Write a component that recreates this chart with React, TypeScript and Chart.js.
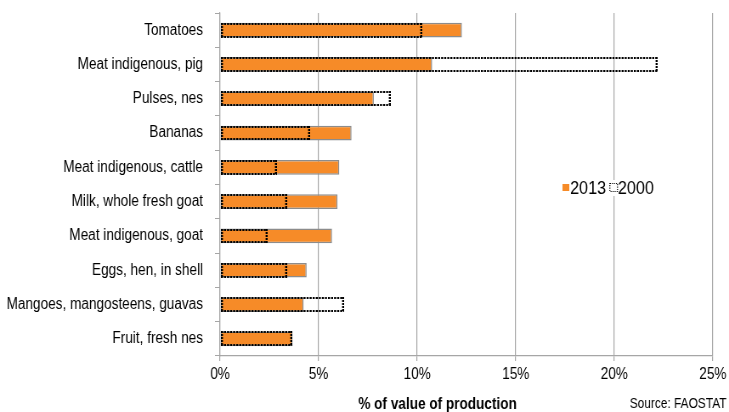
import React, { useEffect, useRef } from 'react';
import { Chart, registerables } from 'chart.js';

Chart.register(...registerables);

const categories = [
  'Tomatoes',
  'Meat indigenous, pig',
  'Pulses, nes',
  'Bananas',
  'Meat indigenous, cattle',
  'Milk, whole fresh goat',
  'Meat indigenous, goat',
  'Eggs, hen, in shell',
  'Mangoes, mangosteens, guavas',
  'Fruit, fresh nes',
];
const values2013 = [12.27, 10.76, 7.8, 6.67, 6.05, 5.96, 5.68, 4.39, 4.24, 3.68];
const values2000 = [10.25, 22.18, 8.65, 4.56, 2.87, 3.41, 2.4, 3.41, 6.28, 3.68];
const seriesLabels = ['2013', '2000'];
const xMin = 0;
const xMax = 25;
const xStep = 5;
const xTitle = '% of value of production';
const sourceText = 'Source: FAOSTAT';

// The reference text is horizontally condensed; the chart is drawn on a wider
// canvas and shown squeezed to the 729px page width.
const DISPLAY_W = 729;
const DISPLAY_H = 412;
const INNER_W = 858;

const FONT = '"Liberation Sans", Arial, sans-serif';
const ORANGE = '#F68B28';
const GRID = '#A6A6A6';

const dottedPlugin = {
  id: 'dottedBars',
  afterDatasetsDraw(chart: any) {
    const meta = chart.getDatasetMeta(1);
    const ctx = chart.ctx;
    ctx.save();
    ctx.strokeStyle = '#000';
    meta.data.forEach((el: any) => {
      const p = el.getProps(['x', 'y', 'base', 'height'], true);
      const left = Math.round(Math.min(p.base, p.x));
      const right = Math.round(Math.max(p.base, p.x));
      const top = Math.round(p.y - p.height / 2);
      const bottom = Math.round(p.y + p.height / 2);
      ctx.lineWidth = 2;
      ctx.setLineDash([2.4, 1.2]);
      ctx.beginPath();
      ctx.moveTo(left, top + 1);
      ctx.lineTo(right, top + 1);
      ctx.moveTo(left, bottom - 1);
      ctx.lineTo(right, bottom - 1);
      ctx.stroke();
      ctx.lineWidth = 2.4;
      ctx.setLineDash([2, 1]);
      ctx.beginPath();
      ctx.moveTo(left + 1.2, top);
      ctx.lineTo(left + 1.2, bottom);
      ctx.moveTo(right - 1.2, top);
      ctx.lineTo(right - 1.2, bottom);
      ctx.stroke();
    });
    ctx.restore();
  },
};

const extrasPlugin = {
  id: 'extras',
  afterDraw(chart: any) {
    const ctx = chart.ctx;
    ctx.save();
    const ly = 188;
    const lx = 662;
    ctx.font = `19px ${FONT}`;
    ctx.textBaseline = 'middle';
    const w1 = ctx.measureText(seriesLabels[0]).width;
    const w2 = ctx.measureText(seriesLabels[1]).width;
    const bx = lx + 9 + w1 + 4;
    ctx.fillStyle = '#fff';
    ctx.fillRect(lx - 2, ly - 8, bx + 10 + w2 + 3 - (lx - 2), 16);
    ctx.fillStyle = ORANGE;
    ctx.fillRect(lx, ly - 4, 8, 7);
    ctx.fillStyle = '#000';
    ctx.textAlign = 'left';
    ctx.fillText(seriesLabels[0], lx + 9, ly + 1);
    ctx.strokeStyle = '#000';
    ctx.lineWidth = 1.2;
    ctx.setLineDash([1.2, 1.2]);
    ctx.strokeRect(bx + 0.5, ly - 4.5, 9, 8);
    ctx.setLineDash([]);
    ctx.fillText(seriesLabels[1], bx + 10, ly + 1);
    ctx.font = `bold 16px ${FONT}`;
    ctx.textAlign = 'center';
    ctx.textBaseline = 'alphabetic';
    ctx.fillText(xTitle, 515, 409);
    ctx.font = `14px ${FONT}`;
    ctx.textAlign = 'right';
    ctx.fillText(sourceText, 855, 408);
    ctx.restore();
  },
};

export default function App() {
  const ref = useRef<HTMLCanvasElement>(null);
  useEffect(() => {
    document.body.style.margin = '0';
    const chart = new Chart(ref.current as HTMLCanvasElement, {
      type: 'bar',
      data: {
        labels: categories,
        datasets: [
          {
            label: seriesLabels[0],
            data: values2013,
            backgroundColor: ORANGE,
            borderColor: '#8C8C8C',
            borderWidth: 1.5,
            borderSkipped: false,
            grouped: false,
            barPercentage: 0.43,
            categoryPercentage: 1,
          } as any,
          {
            label: seriesLabels[1],
            data: values2000,
            backgroundColor: 'rgba(0,0,0,0)',
            borderWidth: 0,
            grouped: false,
            barPercentage: 0.43,
            categoryPercentage: 1,
          } as any,
        ],
      },
      options: {
        indexAxis: 'y',
        animation: false,
        responsive: false,
        devicePixelRatio: 1,
        layout: { padding: { left: 0, right: 19, top: 13, bottom: 0 } },
        plugins: {
          legend: { display: false },
          tooltip: { enabled: false },
        },
        scales: {
          x: {
            type: 'linear',
            min: xMin,
            max: xMax,
            ticks: {
              stepSize: xStep,
              callback: (v: any) => `${v}%`,
              color: '#000',
              font: { family: FONT, size: 16 },
              padding: 4,
            },
            grid: { color: GRID, lineWidth: 1.2, tickLength: 5 },
            border: { color: GRID, width: 1.2 },
            afterFit: (s: any) => {
              s.height = 56;
              s.paddingLeft = 0;
              s.paddingRight = 0;
            },
          },
          y: {
            type: 'category',
            ticks: {
              color: '#000',
              font: { family: FONT, size: 16 },
              padding: 14,
            },
            grid: { color: GRID, drawOnChartArea: false, tickLength: 6, offset: true },
            border: { color: GRID, width: 1.2 },
            afterFit: (s: any) => {
              s.width = 259;
              s.paddingTop = 0;
              s.paddingBottom = 0;
            },
          },
        },
      },
      plugins: [dottedPlugin, extrasPlugin],
    });
    return () => chart.destroy();
  }, []);
  return (
    <canvas
      ref={ref}
      width={INNER_W}
      height={DISPLAY_H}
      style={{ display: 'block', width: `${DISPLAY_W}px`, height: `${DISPLAY_H}px` }}
    />
  );
}
